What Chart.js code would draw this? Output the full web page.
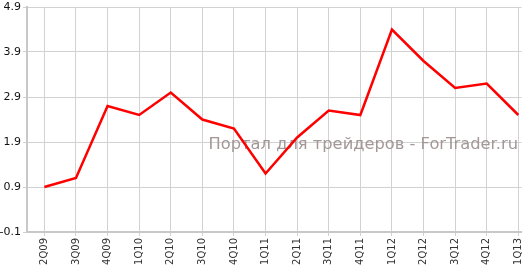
<!DOCTYPE html>
<html>
<head>
<meta charset="utf-8">
<script src="https://cdn.jsdelivr.net/npm/chart.js@4"></script>
<style>
  html, body { margin: 0; padding: 0; background: #fff; overflow: hidden; }
  #wrap { width: 524px; height: 265px; }
</style>
</head>
<body>
<div id="wrap"><canvas id="myChart" width="524" height="265"></canvas></div>
<script>
// quarters and values
const quarters = ['2Q09', '3Q09', '4Q09', '1Q10', '2Q10', '3Q10', '4Q10', '1Q11',
                  '2Q11', '3Q11', '4Q11', '1Q12', '2Q12', '3Q12', '4Q12', '1Q13'];
const values = [0.9, 1.1, 2.7, 2.5, 3.0, 2.4, 2.2, 1.2,
                2.0, 2.6, 2.5, 4.4, 3.7, 3.1, 3.2, 2.5];
const yTicks = [-0.1, 0.9, 1.9, 2.9, 3.9, 4.9];
const watermark = 'Портал для трейдеров - ForTrader.ru';

const gridColor = '#d2d2d2';
const axisColor = '#c8c8c8';

// watermark goes under the line
const watermarkPlugin = {
    id: 'watermark',
    beforeDatasetsDraw(chart) {
        const ctx = chart.ctx;
        ctx.save();
        ctx.font = '16.3px "DejaVu Sans", Verdana, sans-serif';
        ctx.fillStyle = '#a39797';
        ctx.textAlign = 'right';
        ctx.textBaseline = 'alphabetic';
        ctx.fillText(watermark, 518, 149);
        ctx.restore();
    }
};

new Chart(document.getElementById('myChart').getContext('2d'), {
    type: 'line',
    data: {
        datasets: [{
            data: values.map((v, i) => ({ x: i, y: v })),
            borderColor: '#ff0000',
            borderWidth: 2.5,
            pointRadius: 0,
            tension: 0,
            fill: false
        }]
    },
    options: {
        responsive: false,
        animation: false,
        layout: { padding: { top: 7, right: 2.5, left: 0, bottom: 0 } },
        plugins: { legend: { display: false }, tooltip: { enabled: false } },
        scales: {
            x: {
                type: 'linear',
                min: -0.55,
                max: 15.1,
                afterBuildTicks(scale) {
                    scale.ticks = quarters.map((q, i) => ({ value: i }));
                },
                afterFit(scale) {
                    scale.height = 33;
                    scale.paddingLeft = 0;
                    scale.paddingRight = 0;
                },
                ticks: {
                    callback: (v) => quarters[v],
                    autoSkip: false,
                    minRotation: 90,
                    maxRotation: 90,
                    padding: 2,
                    color: '#333',
                    font: { family: '"DejaVu Sans", Verdana, sans-serif', size: 10 }
                },
                grid: { color: gridColor, lineWidth: 1, tickLength: 4 },
                border: { color: axisColor, width: 2 }
            },
            y: {
                min: -0.1,
                max: 4.9,
                afterBuildTicks(scale) {
                    scale.ticks = yTicks.map(v => ({ value: v }));
                },
                afterFit(scale) {
                    scale.width = 27;
                    scale.paddingTop = 0;
                    scale.paddingBottom = 0;
                },
                ticks: {
                    callback: (v) => v.toFixed(1),
                    padding: 2,
                    color: '#111',
                    font: { family: '"DejaVu Sans", Verdana, sans-serif', size: 11 }
                },
                grid: { color: gridColor, lineWidth: 1, tickLength: 4 },
                border: { color: axisColor, width: 2 }
            }
        }
    },
    plugins: [watermarkPlugin]
});
</script>
</body>
</html>
